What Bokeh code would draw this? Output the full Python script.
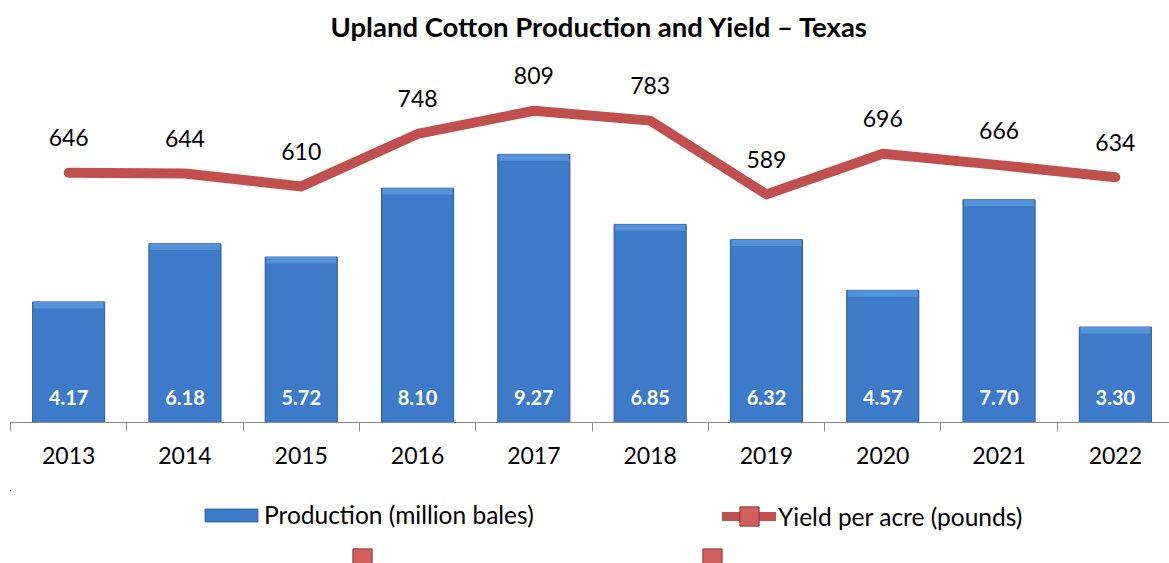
from bokeh.plotting import figure
from bokeh.models import (ColumnDataSource, Range1d, LinearAxis, FixedTicker,
                          Legend, LegendItem)
from bokeh.layouts import column
from bokeh.core.properties import value
from bokeh.embed import file_html
from bokeh.resources import INLINE

# ---- data ----
years = ["2013", "2014", "2015", "2016", "2017", "2018", "2019", "2020", "2021", "2022"]
production = [4.17, 6.18, 5.72, 8.10, 9.27, 6.85, 6.32, 4.57, 7.70, 3.30]
yield_lbs = [646, 644, 610, 748, 809, 783, 589, 696, 666, 634]
series_names = ["Production (million bales)", "Yield per acre (pounds)"]

n = len(years)
xs = list(range(n))
BAR_W = 0.62
BEVEL = 0.22

BAR_FILL = "#3D7BC8"
BAR_LINE = "#2C5C98"
BEVEL_FILL = "#5592DA"
LINE_COLOR = "#C0504D"
MARK_FILL = "#D0605C"
MARK_LINE = "#8E3331"
FONT = "Lato"

src = ColumnDataSource(dict(
    x=xs,
    prod=production,
    bevel=[v - BEVEL for v in production],
    yld=yield_lbs,
    plab=[f"{v:.2f}" for v in production],
    ylab=[str(v) for v in yield_lbs],
    zero=[0] * n,
))

# ---------------- main chart ----------------
p = figure(width=1169, height=490, output_backend="svg", toolbar_location=None,
           x_range=Range1d(-0.5, -0.5 + 1159 / 116.3), y_range=Range1d(0, 13),
           x_axis_location=None, y_axis_location=None,
           min_border_left=10, min_border_right=0, min_border_top=46, min_border_bottom=68)
p.extra_y_ranges = {"yield": Range1d(-11, 978)}
for g in p.grid:
    g.visible = False
p.outline_line_color = None
p.background_fill_color = "white"
p.border_fill_color = "white"

p.title.text = "Upland Cotton Production and Yield \u2013 Texas"
p.title.align = "left"
p.title.offset = 320
p.title.vertical_align = "top"
p.title.standoff = 4
p.title.text_font = FONT
p.title.text_font_style = "bold"
p.title.text_font_size = "27.5px"
p.title.text_color = "black"

xaxis = LinearAxis(ticker=FixedTicker(ticks=xs, minor_ticks=[i - 0.5 for i in range(n + 1)]),
                   major_label_overrides={i: y for i, y in zip(xs, years)})
xaxis.major_tick_in = 0
xaxis.major_tick_out = 0
xaxis.minor_tick_in = 0
xaxis.minor_tick_out = 9
xaxis.minor_tick_line_color = "#8C8C8C"
xaxis.axis_line_color = "#8C8C8C"
xaxis.major_label_text_font = FONT
xaxis.major_label_text_font_size = "23px"
xaxis.major_label_text_color = "black"
xaxis.major_label_standoff = 15
p.add_layout(xaxis, "below")

p.vbar(x="x", top="prod", width=BAR_W, source=src,
       fill_color=BAR_FILL, line_color=BAR_LINE, line_width=1)
p.vbar(x="x", top="prod", bottom="bevel", width=BAR_W - 0.02, source=src,
       fill_color=BEVEL_FILL, line_color=None)
p.text(x="x", y="zero", text="plab", source=src, y_offset=-25,
       text_align="center", text_baseline="middle", text_color="white",
       text_font=value(FONT), text_font_style="bold", text_font_size="20px")

p.line(x="x", y="yld", source=src, y_range_name="yield",
       line_color=LINE_COLOR, line_width=10, line_cap="round", line_join="round")
p.text(x="x", y="yld", text="ylab", source=src, y_range_name="yield", y_offset=-35,
       text_align="center", text_baseline="middle", text_color="black",
       text_font=value(FONT), text_font_size="23px")

# ---------------- legend strip (its view range shows no data) ----------------
lg = figure(width=1169, height=73, output_backend="svg", toolbar_location=None,
            x_range=Range1d(100, 101), y_range=Range1d(-1000, -999), title=None,
            x_axis_location=None, y_axis_location=None,
            min_border_left=0, min_border_right=0, min_border_top=0, min_border_bottom=0)
for g in lg.grid:
    g.visible = False
lg.outline_line_color = None
lg.background_fill_color = "white"
lg.border_fill_color = "white"

lr_bar = lg.vbar(x="x", top="prod", width=BAR_W, source=src,
                 fill_color=BAR_FILL, line_color=BAR_LINE)
lr_line = lg.line(x="x", y="yld", source=src, line_color=LINE_COLOR, line_width=9,
                  line_cap="round")
lr_mark = lg.scatter(x="x", y="yld", source=src, marker="square",
                     fill_color=MARK_FILL, line_color=MARK_LINE)

common = dict(orientation="horizontal", padding=0, margin=0, label_text_font=FONT,
              label_text_font_size="24.5px", label_text_color="black",
              border_line_color=None, background_fill_alpha=0)

leg1 = Legend(items=[LegendItem(label=series_names[0], renderers=[lr_bar])],
              location=(188, 34), glyph_width=66, glyph_height=16, label_standoff=-2, **common)
leg2 = Legend(items=[LegendItem(label=series_names[1], renderers=[lr_line, lr_mark])],
              location=(712, 23), glyph_width=54, glyph_height=48, label_standoff=2, **common)
# partially visible markers of a cropped second legend row
leg3 = Legend(items=[LegendItem(label=" ", renderers=[lr_mark])],
              location=(325, -19), glyph_width=54, glyph_height=48, label_standoff=0, **common)
leg4 = Legend(items=[LegendItem(label=" ", renderers=[lr_mark])],
              location=(675, -19), glyph_width=54, glyph_height=48, label_standoff=0, **common)
for L in (leg1, leg2, leg3, leg4):
    lg.add_layout(L, "center")

layout = column(p, lg, spacing=0)
open("out.html", "w").write(file_html(layout, INLINE))
